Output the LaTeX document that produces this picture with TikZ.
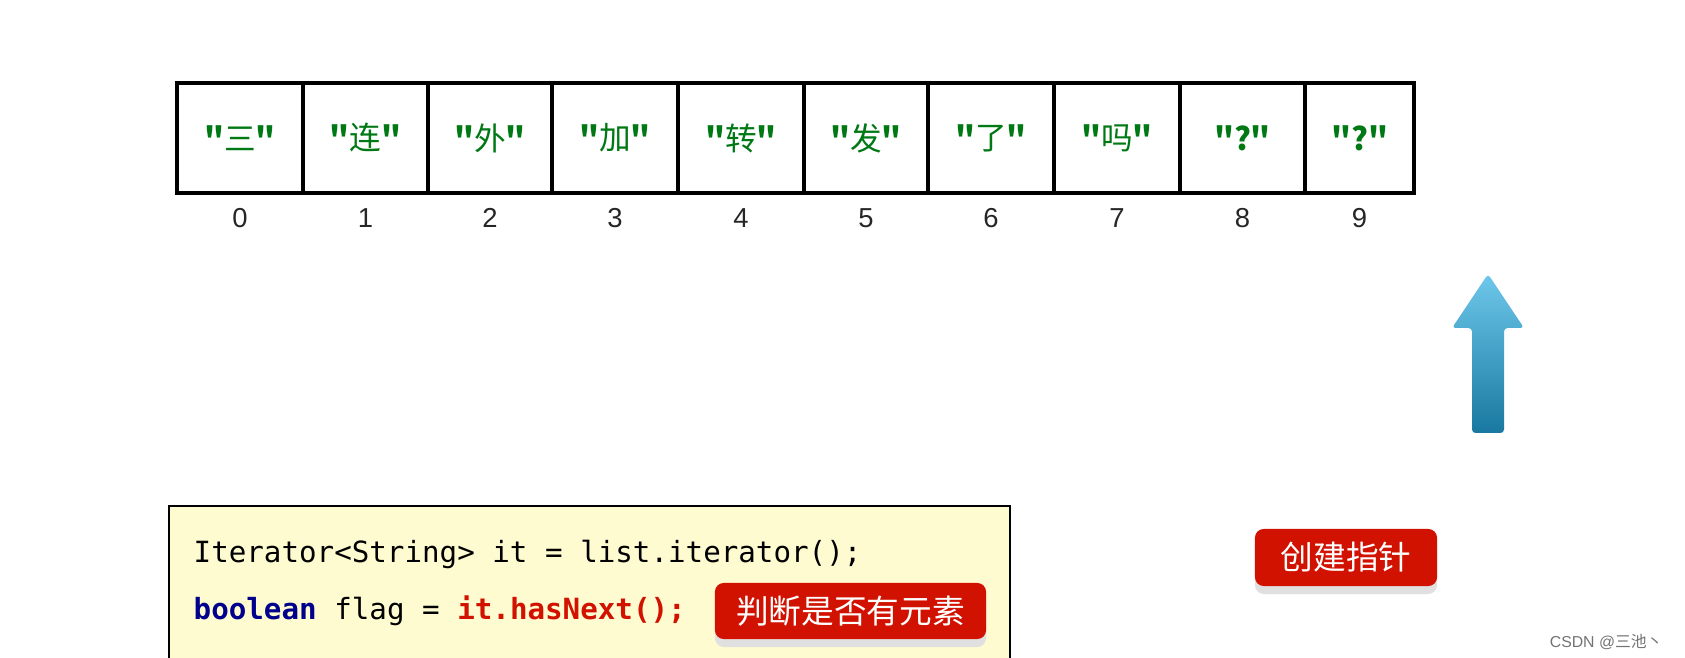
\documentclass[tikz,border=0pt]{standalone}
\usepackage{fontspec}
\setsansfont{Liberation Sans}
\setmonofont{DejaVu Sans Mono}
\newfontfamily\cjk{Noto Sans CJK SC}
\definecolor{strgreen}{RGB}{0,120,20}
\definecolor{codebg}{RGB}{255,251,208}
\definecolor{kwblue}{RGB}{0,0,140}
\definecolor{badgered}{RGB}{210,18,0}
\definecolor{arrowtop}{RGB}{110,200,235}
\definecolor{arrowbot}{RGB}{25,120,160}
\usetikzlibrary{positioning, calc}

\begin{document}
\begin{tikzpicture}[x=0.01cm, y=-0.01cm,
  cell/.style={draw=black, line width=0.9pt, minimum height=1.1cm, outer sep=0pt, font=\cjk\fontsize{9}{9}\selectfont, text=strgreen, inner sep=0pt},
  idx/.style={font=\sffamily\fontsize{7.8}{7.8}\selectfont, text=black!85, anchor=base},
  code/.style={font=\ttfamily\fontsize{8.3}{8.3}\selectfont, anchor=west, inner sep=0pt},
  badge/.style={fill=badgered, rounded corners=2.5pt, text=white, font=\cjk\fontsize{9.3}{9.3}\selectfont, inner sep=0pt}
]
  \useasboundingbox (0,0) rectangle (1685,658);
  % array cells
  \foreach \i/\xa/\xb/\s in {0/177/303/三, 1/303/428/连, 2/428/552/外, 3/552/678/加, 4/678/804/转,
                             5/804/928/发, 6/928/1054/了, 7/1054/1180/吗, 8/1180/1305/\textbf{?}, 9/1305/1414/\textbf{?}} {
    \node[cell, minimum width={(\xb-\xa)*0.01cm}] (c\i) at ({(\xa+\xb)/2},138) {\textbf{"}\s\textbf{"}};
    \node[idx] (n\i) at ({(\xa+\xb)/2},228) {\i};
  }
  % pointer arrow
  \shade[top color=arrowtop, bottom color=arrowbot, rounded corners=1pt]
    (1472,433) -- (1472,328) -- (1452,328) -- (1488,274) -- (1524,328) -- (1504,328) -- (1504,433) -- cycle;
  % code box
  \draw[fill=codebg, line width=0.4pt] (169,658) -- (169,506) -- (1010,506) -- (1010,658);
  \node[code] (l1) at (193,554) {Iterator<String> it = list.iterator();};
  \node[code] (l2) at (193,611) {\textcolor{kwblue}{\bfseries boolean} flag = \textcolor{badgered}{\bfseries it.hasNext();}};
  % badges
  \fill[black!12, rounded corners=2.5pt] (715,592) rectangle (986,647);
  \node[badge, minimum width=2.71cm, minimum height=0.56cm] (hasnext) at (850.5,611) {判断是否有元素};
  \fill[black!12, rounded corners=2.5pt] (1255,538) rectangle (1437,594);
  \node[badge, minimum width=1.82cm, minimum height=0.57cm] (create) at (1346,557.5) {创建指针};
  \node[font=\sffamily\fontsize{4.5}{4.5}\selectfont, text=black!55, anchor=east] (mark) at (1675,642) {CSDN @{\cjk 三池丶}};
\end{tikzpicture}
\end{document}
